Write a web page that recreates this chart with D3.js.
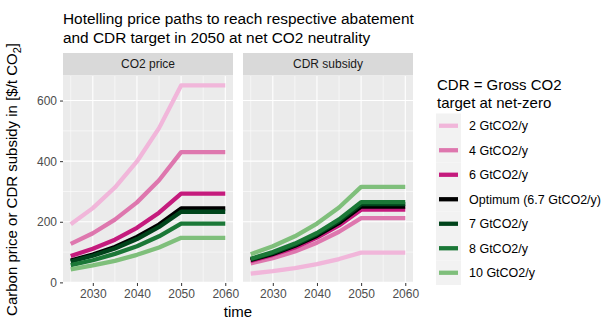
<!DOCTYPE html>
<html>
<head>
<meta charset="utf-8">
<script src="https://cdn.jsdelivr.net/npm/d3@7"></script>
<style>
  html, body { margin: 0; padding: 0; background: #ffffff; }
  svg { display: block; font-family: "Liberation Sans", Arial, sans-serif; }
</style>
</head>
<body>
<svg id="chart" width="608" height="320"></svg>
<script>
// Years sampled along each price path
const years = [2025, 2030, 2035, 2040, 2045, 2050, 2055, 2060];

// Scenario names (legend order) and colours
const scenarios = ["2 GtCO2/y", "4 GtCO2/y", "6 GtCO2/y", "Optimum (6.7 GtCO2/y)", "7 GtCO2/y", "8 GtCO2/y", "10 GtCO2/y"];
const colors = ["#f1b6da", "#de77ae", "#c51b7d", "#000000", "#00441b", "#1b7837", "#7fbf7b"];

// Facet titles
const facets = ["CO2 price", "CDR subsidy"];

// CO2 price paths [$/t CO2], one array per scenario
const co2_2  = [192, 245, 313, 399, 509, 650, 650, 650];
const co2_4  = [127, 162, 207, 264, 337, 430, 430, 430];
const co2_6  = [87, 111, 141, 180, 230, 293, 293, 293];
const co2_opt = [72, 92, 117, 150, 191, 244, 244, 244];
const co2_7  = [69, 88, 112, 143, 183, 233, 233, 233];
const co2_8  = [57, 73, 94, 119, 152, 194, 194, 194];
const co2_10 = [43, 56, 71, 91, 115, 147, 147, 147];

// CDR subsidy paths [$/t CO2]
const cdr_2  = [29, 37, 47, 60, 77, 98, 98, 98];
const cdr_4  = [63, 80, 102, 131, 167, 212, 212, 212];
const cdr_6  = [71, 91, 115, 148, 188, 240, 240, 240];
const cdr_opt = [74, 94, 121, 154, 196, 250, 250, 250];
const cdr_7  = [76, 97, 124, 159, 202, 258, 258, 258];
const cdr_8  = [78, 100, 128, 163, 208, 265, 265, 265];
const cdr_10 = [93, 119, 152, 194, 247, 315, 315, 315];

// Axis ticks
const xTicks = [2030, 2040, 2050, 2060];
const xMinor = [2025, 2035, 2045, 2055];
const yTicks = [0, 200, 400, 600];
const yMinor = [100, 300, 500];

const panelValues = [
  [co2_2, co2_4, co2_6, co2_opt, co2_7, co2_8, co2_10],
  [cdr_2, cdr_4, cdr_6, cdr_opt, cdr_7, cdr_8, cdr_10]
];

const svg = d3.select("#chart");

// Panel geometry
const stripTop = 53, stripBottom = 75.5;
const panelTop = 76, panelBottom = 283;
const panelX = [[63, 233], [243, 413]];

// Shared scales: data range widened by 5% on each side
const [xMin, xMax] = d3.extent(years);
const xPad = (xMax - xMin) * 0.05;
const allValues = panelValues.flat(2);
const [yMin, yMax] = d3.extent(allValues);
const yPad = (yMax - yMin) * 0.05;
const y = d3.scaleLinear().domain([yMin - yPad, yMax + yPad]).range([panelBottom, panelTop]);

const tickColor = "#333333", labelColor = "#4d4d4d";

// Title
const title = svg.append("text").attr("x", 63).attr("fill", "#000").style("font-size", "15.4px");
title.append("tspan").attr("x", 63).attr("y", 24).text("Hotelling price paths to reach respective abatement");
title.append("tspan").attr("x", 63).attr("y", 43).text("and CDR target in 2050 at net CO2 neutrality");

facets.forEach((name, i) => {
  const [x0, x1] = panelX[i];
  const x = d3.scaleLinear().domain([xMin - xPad, xMax + xPad]).range([x0, x1]);
  const g = svg.append("g");

  // strip
  g.append("rect").attr("x", x0).attr("y", stripTop).attr("width", x1 - x0).attr("height", stripBottom - stripTop).attr("fill", "#d9d9d9");
  g.append("text").attr("x", (x0 + x1) / 2).attr("y", (stripTop + stripBottom) / 2 + 4.2)
    .attr("text-anchor", "middle").attr("fill", "#1a1a1a").style("font-size", "12px").text(name);

  // panel background
  g.append("rect").attr("x", x0).attr("y", panelTop).attr("width", x1 - x0).attr("height", panelBottom - panelTop).attr("fill", "#ebebeb");

  // grid
  const grid = g.append("g");
  xMinor.forEach(v => grid.append("line").attr("x1", x(v)).attr("x2", x(v)).attr("y1", panelTop).attr("y2", panelBottom).attr("stroke", "#fff").attr("stroke-width", 0.55));
  yMinor.forEach(v => grid.append("line").attr("x1", x0).attr("x2", x1).attr("y1", y(v)).attr("y2", y(v)).attr("stroke", "#fff").attr("stroke-width", 0.55));
  xTicks.forEach(v => grid.append("line").attr("x1", x(v)).attr("x2", x(v)).attr("y1", panelTop).attr("y2", panelBottom).attr("stroke", "#fff").attr("stroke-width", 1.1));
  yTicks.forEach(v => grid.append("line").attr("x1", x0).attr("x2", x1).attr("y1", y(v)).attr("y2", y(v)).attr("stroke", "#fff").attr("stroke-width", 1.1));

  // x axis
  const xAxis = g.append("g").attr("transform", `translate(0,${panelBottom})`)
    .call(d3.axisBottom(x).tickValues(xTicks).tickFormat(d3.format("d")).tickSize(3).tickPadding(3.5));
  xAxis.select(".domain").remove();
  xAxis.selectAll(".tick line").attr("stroke", tickColor);
  xAxis.selectAll(".tick text").attr("fill", labelColor).style("font-size", "12px").style("font-family", "Liberation Sans, Arial, sans-serif");

  // y axis on the first panel only
  if (i === 0) {
    const yAxis = g.append("g").attr("transform", `translate(${x0},0)`)
      .call(d3.axisLeft(y).tickValues(yTicks).tickSize(3).tickPadding(3));
    yAxis.select(".domain").remove();
    yAxis.selectAll(".tick line").attr("stroke", tickColor);
    yAxis.selectAll(".tick text").attr("fill", labelColor).style("font-size", "12px").style("font-family", "Liberation Sans, Arial, sans-serif");
  }

  // price paths
  const line = d3.line().x((d, k) => x(years[k])).y(d => y(d));
  const clipId = "clip" + i;
  g.append("clipPath").attr("id", clipId).append("rect").attr("x", x0).attr("y", panelTop).attr("width", x1 - x0).attr("height", panelBottom - panelTop);
  const lines = g.append("g").attr("clip-path", `url(#${clipId})`);
  panelValues[i].forEach((vals, s) => {
    lines.append("path").datum(vals).attr("d", line).attr("fill", "none")
      .attr("stroke", colors[s]).attr("stroke-width", 4.3).attr("stroke-linejoin", "round");
  });
});

// Axis titles
svg.append("text").attr("x", (panelX[0][0] + panelX[1][1]) / 2).attr("y", 317)
  .attr("text-anchor", "middle").attr("fill", "#000").style("font-size", "15px").text("time");

const yTitle = svg.append("text")
  .attr("transform", `translate(17,${(panelTop + panelBottom) / 2}) rotate(-90)`)
  .attr("text-anchor", "middle").attr("fill", "#000").style("font-size", "15px");
yTitle.append("tspan").text("Carbon price or CDR subsidy in [$/t CO");
yTitle.append("tspan").attr("dy", 4).style("font-size", "11px").text("2");
yTitle.append("tspan").attr("dy", -4).text("]");

// Legend
const lg = svg.append("g");
lg.append("text").attr("x", 437).attr("y", 90).style("font-size", "15px").attr("fill", "#000").text("CDR = Gross CO2");
lg.append("text").attr("x", 437).attr("y", 108).style("font-size", "15px").attr("fill", "#000").text("target at net-zero");
const keyTop = 113.5, keyH = 24.5, keyX = 436, keyW = 25;
scenarios.forEach((name, s) => {
  const cy = keyTop + keyH * s + keyH / 2;
  lg.append("rect").attr("x", keyX).attr("y", keyTop + keyH * s).attr("width", keyW).attr("height", keyH).attr("fill", "#f2f2f2");
  lg.append("line").attr("x1", keyX + 3).attr("x2", keyX + keyW - 3).attr("y1", cy).attr("y2", cy)
    .attr("stroke", colors[s]).attr("stroke-width", 4.3);
  lg.append("text").attr("x", 469).attr("y", cy + 4.5).style("font-size", "12.5px").attr("fill", "#000").text(name);
});
</script>
</body>
</html>
